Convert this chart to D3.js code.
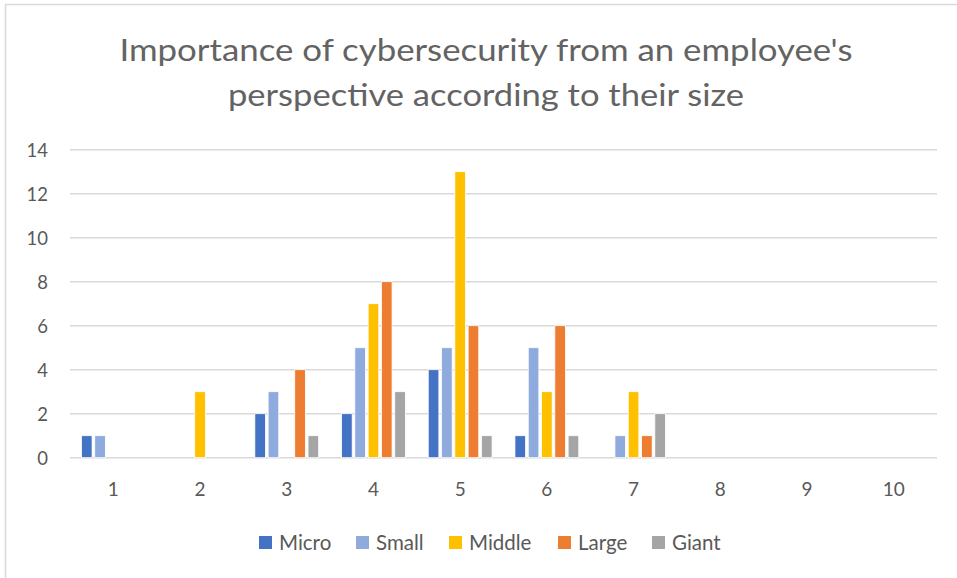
<!DOCTYPE html>
<html><head><meta charset="utf-8">
<script src="https://cdn.jsdelivr.net/npm/d3@7"></script>
<style>body{margin:0;background:#fff;}svg{display:block;font-family:Lato,"Open Sans",sans-serif;}</style>
</head><body>
<svg id="c" width="957" height="578"></svg>
<script>
const categories = ["1","2","3","4","5","6","7","8","9","10"];
const seriesNames = ["Micro","Small","Middle","Large","Giant"];
const seriesColors = ["#4472C4","#8FAADC","#FFC000","#ED7D31","#A5A5A5"];
const micro  = [1,0,2,2,4,1,0,0,0,0];
const small  = [1,0,3,5,5,5,1,0,0,0];
const middle = [0,3,0,7,13,3,3,0,0,0];
const large  = [0,0,4,8,6,6,1,0,0,0];
const giant  = [0,0,1,3,1,1,2,0,0,0];
const yTicks = [0,2,4,6,8,10,12,14];
const titleLines = ["Importance of cybersecurity from an employee's","perspective according to their size"];

const seriesValues = [micro, small, middle, large, giant];
const svg = d3.select("#c");
const textColor = "#595959";

// chart border
svg.append("rect").attr("x",5.5).attr("y",4.5).attr("width",970).attr("height",600)
  .attr("fill","none").attr("stroke","#d9d9d9").attr("stroke-width",1.5);

// title
const titleY = [61, 106];
const titleW = [733, 516];
titleLines.forEach((t,i)=>{
  svg.append("text").attr("x",486).attr("y",titleY[i]).attr("text-anchor","middle")
    .attr("font-size",31).attr("fill","#636363")
    .attr("textLength",titleW[i]).attr("lengthAdjust","spacingAndGlyphs").text(t);
});

const x0 = d3.scaleBand().domain(categories).range([70,937]).paddingInner(0).paddingOuter(0);
const x1 = d3.scaleBand().domain(seriesNames).range([0,x0.bandwidth()]).paddingInner(0.2).paddingOuter(0.86);
const y = d3.scaleLinear().domain([0,14]).range([457.7,149.7]);

// gridlines
const grid = svg.append("g");
grid.selectAll("line").data(yTicks).join("line")
  .attr("x1",70).attr("x2",937).attr("y1",d=>y(d)).attr("y2",d=>y(d))
  .attr("stroke","#d9d9d9").attr("stroke-width",1.5);

// y axis
const yAxis = svg.append("g").attr("transform","translate(57,0)")
  .call(d3.axisLeft(y).tickValues(yTicks).tickSize(0).tickPadding(9));
yAxis.select(".domain").remove();
yAxis.attr("font-size",18.5).attr("font-family","Lato,sans-serif");
yAxis.selectAll("text").attr("fill",textColor).attr("dy","0.35em");

// x axis
const xAxis = svg.append("g").attr("transform","translate(0,470)")
  .call(d3.axisBottom(x0).tickSize(0).tickPadding(12.5));
xAxis.select(".domain").remove();
xAxis.attr("font-size",19).attr("font-family","Lato,sans-serif");
xAxis.selectAll("text").attr("fill",textColor);

// bars
const barData = [];
categories.forEach((c,ci)=>{
  seriesNames.forEach((s,si)=>{
    const v = seriesValues[si][ci];
    if (v>0) barData.push({c,s,v,color:seriesColors[si]});
  });
});
svg.append("g").selectAll("rect").data(barData).join("rect")
  .attr("x",d=>x0(d.c)+x1(d.s)).attr("width",x1.bandwidth())
  .attr("y",d=>y(d.v)).attr("height",d=>y(0)-y(d.v))
  .attr("fill",d=>d.color).attr("stroke","#fff").attr("stroke-width",0.8);

// legend
const legendX = [259,356,449,558,652];
const lg = svg.append("g");
seriesNames.forEach((s,i)=>{
  lg.append("rect").attr("x",legendX[i]).attr("y",536).attr("width",13).attr("height",13).attr("fill",seriesColors[i]);
  lg.append("text").attr("x",legendX[i]+20).attr("y",550).attr("font-size",20.5).attr("fill",textColor).text(s);
});
</script>
</body></html>
